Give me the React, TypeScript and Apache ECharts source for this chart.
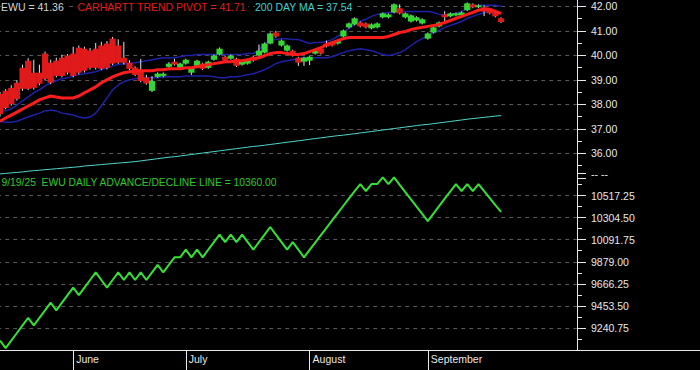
import React, { useEffect, useRef } from "react";
import * as echarts from "echarts";

// ---- data ----
const START_DATE = "2025-05-13";
const HOLIDAYS = ["2025-05-26", "2025-06-19", "2025-07-04", "2025-09-01"];
const SLOT_COUNT = 103; // trading-day slots on the x axis (data + blank right margin)
const MONTH_NAMES = ["January","February","March","April","May","June","July","August","September","October","November","December"];

const opens = [38.42,38.55,38.67,38.88,39.49,39.78,39.29,39.29,40.07,39.70,39.78,39.90,39.99,40.07,40.31,40.27,40.19,40.27,40.40,40.48,40.68,40.40,39.90,39.70,39.50,39.35,39.10,38.55,39.12,39.16,39.53,39.74,39.49,39.66,39.29,39.57,39.66,39.49,39.82,40.03,39.94,39.86,39.86,39.62,39.66,39.94,39.99,40.11,40.48,40.93,40.40,40.19,40.19,39.90,39.74,39.78,40.07,40.27,40.48,40.52,40.48,40.77,41.14,41.26,41.34,41.30,41.10,41.14,41.55,41.55,41.75,41.92,41.55,41.38,41.42,41.30,40.68,40.93,41.18,41.67,41.59,41.63,41.63,41.84,42.08,41.96,41.96,41.88,41.75,41.51];
const closes = [37.60,37.85,38.01,38.22,38.63,38.63,38.67,38.84,39.04,38.88,39.16,39.16,39.29,39.16,39.29,39.37,39.49,39.49,39.45,39.49,39.66,39.70,39.70,39.45,39.20,38.95,38.85,38.95,39.25,39.25,39.66,39.62,39.66,39.82,39.49,39.78,39.45,39.74,39.99,40.27,39.78,39.99,39.57,39.78,39.82,39.78,40.19,40.48,40.89,40.77,40.60,40.40,39.99,39.70,39.90,39.94,40.19,40.07,40.36,40.40,40.60,41.01,41.30,41.51,41.18,41.14,41.26,41.30,41.71,41.67,42.08,41.71,41.71,41.63,41.55,41.47,40.89,41.14,41.34,41.55,41.71,41.71,41.75,42.12,41.96,42.04,41.79,41.71,41.59,41.36];
const lows = [37.50,37.80,37.95,38.15,38.55,38.58,38.60,38.78,38.98,38.82,39.10,39.10,39.22,39.10,39.22,39.30,39.42,39.42,39.40,39.42,39.60,39.65,39.62,39.40,39.15,38.90,38.80,38.50,39.08,39.10,39.48,39.58,39.45,39.62,39.20,39.53,39.40,39.45,39.78,40.00,39.74,39.82,39.52,39.58,39.62,39.74,39.95,40.08,40.45,40.72,40.36,40.15,39.95,39.57,39.57,39.60,40.03,40.03,40.32,40.36,40.44,40.73,41.10,41.22,41.14,41.10,41.06,41.10,41.51,41.51,41.71,41.67,41.51,41.34,41.38,41.26,40.64,40.89,41.14,41.40,41.55,41.59,41.59,41.80,41.92,41.92,41.60,41.67,41.55,41.32];
const highs = [38.50,38.62,38.78,38.98,39.62,39.88,39.82,39.62,40.15,39.82,39.90,40.02,40.05,40.35,40.40,40.35,40.30,40.50,40.55,40.58,40.75,40.65,40.55,39.80,39.55,39.85,39.20,39.15,39.30,39.30,39.72,39.86,39.70,39.86,39.52,39.82,39.70,39.78,40.03,40.32,39.98,40.03,39.90,39.82,39.86,39.98,40.44,40.52,40.93,41.00,40.64,40.44,40.23,39.94,39.94,39.98,40.23,40.31,40.60,40.56,40.64,41.05,41.34,41.55,41.38,41.34,41.30,41.34,41.75,41.71,42.12,42.08,41.75,41.67,41.59,41.51,40.93,41.18,41.38,41.80,41.75,41.75,41.79,42.16,42.12,42.08,42.04,41.92,41.79,41.55];

const trendPivot = [37.31,37.44,37.56,37.68,37.81,37.93,38.05,38.18,38.26,38.34,38.30,38.26,38.26,38.26,38.34,38.47,38.59,38.71,38.88,39.00,39.12,39.21,39.29,39.33,39.37,39.37,39.37,39.37,39.41,39.41,39.45,39.45,39.45,39.49,39.49,39.53,39.57,39.62,39.66,39.70,39.74,39.74,39.78,39.78,39.82,39.86,39.90,39.99,40.07,40.11,40.11,40.07,40.03,40.03,40.07,40.15,40.23,40.31,40.44,40.52,40.60,40.68,40.73,40.73,40.73,40.73,40.73,40.73,40.73,40.77,40.85,40.93,40.97,41.05,41.10,41.14,41.18,41.22,41.26,41.34,41.42,41.51,41.59,41.67,41.75,41.84,41.88,41.88,41.79,41.71];
const upperBand = [37.81,37.73,37.81,37.97,38.14,38.30,38.47,38.59,38.75,38.88,38.96,39.04,39.08,39.16,39.21,39.25,39.29,39.33,39.41,39.49,39.57,39.62,39.66,39.66,39.70,39.74,39.78,39.82,39.86,39.90,39.90,39.90,39.94,39.99,39.99,40.03,40.03,40.03,40.03,40.03,40.03,40.03,40.03,40.03,40.07,40.07,40.23,40.48,40.60,40.64,40.68,40.68,40.64,40.64,40.56,40.48,40.52,40.52,40.56,40.64,40.77,40.93,41.10,41.26,41.38,41.47,41.59,41.67,41.71,41.75,41.75,41.79,41.79,41.79,41.79,41.79,41.79,41.75,41.67,41.63,41.67,41.71,41.79,41.92,42.00,42.04,42.04,42.04,42.04,42.00];
const lowerBand = [37.31,37.27,37.27,37.31,37.40,37.48,37.56,37.64,37.73,37.77,37.73,37.64,37.60,37.56,37.48,37.44,37.48,37.64,37.93,38.26,38.59,38.79,38.92,39.00,39.04,39.08,39.08,39.08,39.08,39.12,39.12,39.12,39.12,39.16,39.16,39.16,39.16,39.16,39.12,39.08,39.08,39.12,39.12,39.16,39.21,39.25,39.33,39.41,39.53,39.66,39.74,39.78,39.82,39.86,39.90,39.90,39.90,39.90,39.90,39.94,40.03,40.11,40.19,40.23,40.27,40.23,40.19,40.11,40.03,39.99,40.03,40.11,40.23,40.40,40.56,40.68,40.81,40.93,41.01,41.14,41.22,41.30,41.38,41.51,41.59,41.67,41.75,41.79,41.75,41.67];
const ma200 = [35.16,35.18,35.20,35.22,35.24,35.27,35.29,35.31,35.33,35.35,35.37,35.39,35.41,35.43,35.45,35.48,35.50,35.52,35.54,35.56,35.58,35.60,35.62,35.64,35.66,35.69,35.72,35.75,35.78,35.81,35.84,35.86,35.89,35.92,35.95,35.98,36.01,36.04,36.07,36.10,36.13,36.16,36.19,36.22,36.25,36.28,36.30,36.33,36.36,36.39,36.42,36.45,36.48,36.51,36.54,36.57,36.60,36.63,36.66,36.69,36.72,36.74,36.77,36.80,36.83,36.86,36.89,36.92,36.95,36.98,37.01,37.04,37.07,37.10,37.13,37.16,37.18,37.21,37.24,37.27,37.30,37.33,37.36,37.39,37.42,37.44,37.47,37.49,37.52,37.54];
const advDecline = [9119,9046,9119,9192,9265,9338,9265,9338,9411,9484,9411,9484,9557,9630,9557,9630,9703,9776,9703,9630,9703,9776,9703,9776,9703,9776,9703,9776,9849,9776,9849,9922,9922,9995,9922,9995,9922,9995,10068,10141,10068,10141,10068,10141,10068,9995,10068,10141,10214,10141,10068,9995,10068,9995,9922,9993,10064,10135,10206,10277,10348,10419,10490,10560,10628,10560,10628,10628,10693,10628,10693,10620,10550,10480,10410,10340,10271,10343,10415,10487,10558,10628,10560,10628,10560,10628,10560,10493,10426,10360];

const PRICE_TICK_MIN = 35;
const PRICE_TICK_MAX = 42.5;
const AD_TICK_MIN = 9028;
const AD_TICK_MAX = 10730;
const AD_TICK_STEP = 212.75;

const TITLE_EWU = "EWU = 41.36";
const TITLE_PIVOT = "CARHARTT TREND PIVOT = 41.71";
const TITLE_MA = "200 DAY MA = 37.54";
const TITLE_AD = "9/19/25  EWU DAILY ADVANCE/DECLINE LINE = 10360.00";

function buildDates(): string[] {
  const out: string[] = [];
  const d = new Date(START_DATE + "T00:00:00Z");
  while (out.length < SLOT_COUNT) {
    const iso = d.toISOString().slice(0, 10);
    const wd = d.getUTCDay();
    if (wd !== 0 && wd !== 6 && !HOLIDAYS.includes(iso)) out.push(iso);
    d.setUTCDate(d.getUTCDate() + 1);
  }
  return out;
}

const FONT = 'Arial, "Liberation Sans", sans-serif';
const GREEN = "#33d633";
const RED = "#e01a1a";

export default function App() {
  const ref = useRef<HTMLDivElement>(null);
  useEffect(() => {
    document.body.style.margin = "0";
    document.body.style.background = "#000";
    if (!ref.current) return;
    const chart = echarts.init(ref.current, undefined, { renderer: "svg" });
    const dates = buildDates();
    const lastDataIdx = closes.length - 1;
    const isMonthStart = (i: number) =>
      i > 0 && i <= lastDataIdx && dates[i].slice(5, 7) !== dates[i - 1].slice(5, 7);
    const candleData = opens.map((o, i) => [i, o, closes[i], lows[i], highs[i]]);
    const axisColor = "#e8e8e8";
    const gridLine = { show: true, lineStyle: { color: "#555", type: [4, 4] as any, width: 1 }, showMinLine: false, showMaxLine: false };
    const titleStyle = (text: string, fill: string) => ({
      text, fill, font: `10.5px ${FONT}`, verticalAlign: "middle", backgroundColor: "#000", padding: [1, 2, 1, 0],
    });

    chart.setOption({
      animation: false,
      backgroundColor: "#000",
      grid: [
        { left: -2.8, right: 123, top: -5.95, height: 183.75, outerBoundsMode: "none" },
        { left: -2.8, right: 123, top: 173.5, bottom: 20, outerBoundsMode: "none" },
      ],
      xAxis: [
        { type: "category", gridIndex: 0, data: dates, boundaryGap: true, show: false },
        {
          type: "category", gridIndex: 1, data: dates, boundaryGap: true,
          axisLine: { lineStyle: { color: axisColor, width: 1 } },
          axisTick: { show: true, alignWithLabel: true, length: 20, interval: (i: number) => isMonthStart(i), lineStyle: { color: axisColor } },
          axisLabel: {
            interval: (i: number) => isMonthStart(i),
            formatter: (v: string) => MONTH_NAMES[parseInt(v.slice(5, 7), 10) - 1],
            align: "left", padding: [0, 0, 0, 3], margin: 3,
            color: axisColor, fontSize: 10.5, fontFamily: FONT,
          },
          splitLine: { show: false },
        },
      ],
      yAxis: [
        {
          type: "value", gridIndex: 0, position: "right",
          min: PRICE_TICK_MIN, max: PRICE_TICK_MAX, interval: 1,
          axisLine: { show: true, lineStyle: { color: axisColor } },
          axisTick: { show: true, length: 9, lineStyle: { color: axisColor } },
          minorTick: { show: true, splitNumber: 2, length: 5, lineStyle: { color: axisColor } },
          axisLabel: { margin: 14, color: axisColor, fontSize: 10.5, fontFamily: FONT, showMinLabel: false, showMaxLabel: false, formatter: (v: number) => v.toFixed(2) },
          splitLine: gridLine,
        },
        {
          type: "value", gridIndex: 1, position: "right",
          min: AD_TICK_MIN, max: AD_TICK_MAX, interval: AD_TICK_STEP,
          axisLine: { show: true, lineStyle: { color: axisColor } },
          axisTick: { show: true, length: 9, lineStyle: { color: axisColor } },
          minorTick: { show: true, splitNumber: 2, length: 5, lineStyle: { color: axisColor } },
          axisLabel: { margin: 14, color: axisColor, fontSize: 10.5, fontFamily: FONT, showMinLabel: false, showMaxLabel: true, formatter: (v: number) => (v >= AD_TICK_MAX - 0.01 ? "-- --" : v.toFixed(2)) },
          splitLine: gridLine,
        },
      ],
      series: [
        { type: "line", xAxisIndex: 0, yAxisIndex: 0, data: ma200, symbol: "none", lineStyle: { color: "#4fd6cc", width: 1 }, z: 2 },
        { type: "line", xAxisIndex: 0, yAxisIndex: 0, data: upperBand, symbol: "none", lineStyle: { color: "#2020a8", width: 1.5 }, z: 3 },
        { type: "line", xAxisIndex: 0, yAxisIndex: 0, data: lowerBand, symbol: "none", lineStyle: { color: "#2020a8", width: 1.5 }, z: 3 },
        {
          type: "custom", xAxisIndex: 0, yAxisIndex: 0, data: candleData, z: 4,
          encode: { x: 0, y: [1, 2, 3, 4] },
          renderItem: (params: any, api: any) => {
            const idx = api.value(0);
            const o = api.coord([idx, api.value(1)]);
            const c = api.coord([idx, api.value(2)]);
            const l = api.coord([idx, api.value(3)]);
            const h = api.coord([idx, api.value(4)]);
            const w = api.size([1, 0])[0] * 1.1;
            const up = api.value(2) >= api.value(1);
            const top = Math.min(o[1], c[1]);
            const hgt = Math.max(Math.abs(o[1] - c[1]), 1.5);
            return {
              type: "group",
              children: [
                { type: "line", shape: { x1: o[0], y1: h[1], x2: o[0], y2: l[1] }, style: { stroke: "#e6e6e6", lineWidth: 1 } },
                { type: "rect", shape: { x: o[0] - w / 2, y: top, width: w, height: hgt }, style: { fill: up ? GREEN : RED } },
              ],
            };
          },
        },
        { type: "line", xAxisIndex: 0, yAxisIndex: 0, data: trendPivot, symbol: "none", lineStyle: { color: "#ff1c1c", width: 3 }, z: 5 },
        { type: "line", xAxisIndex: 1, yAxisIndex: 1, data: advDecline, symbol: "none", lineStyle: { color: "#36e036", width: 2 }, z: 5 },
      ],
      graphic: [
        { type: "line", shape: { x1: 577, y1: 350.5, x2: 700, y2: 350.5 }, style: { stroke: axisColor, lineWidth: 1 } },
        { type: "text", x: 1, y: 7, z: 10, style: titleStyle(TITLE_EWU, "#d6d6d6") },
        { type: "text", x: 77.5, y: 7, z: 10, style: titleStyle(TITLE_PIVOT, "#e01e1e") },
        { type: "text", x: 255, y: 7, z: 10, style: titleStyle(TITLE_MA, "#45cfcf") },
        { type: "text", x: 1.5, y: 182, z: 10, style: { text: TITLE_AD, fill: "#30c830", font: `10.3px ${FONT}`, verticalAlign: "middle" } },
      ],
    });
    return () => chart.dispose();
  }, []);
  return <div ref={ref} style={{ width: 700, height: 370 }} />;
}
